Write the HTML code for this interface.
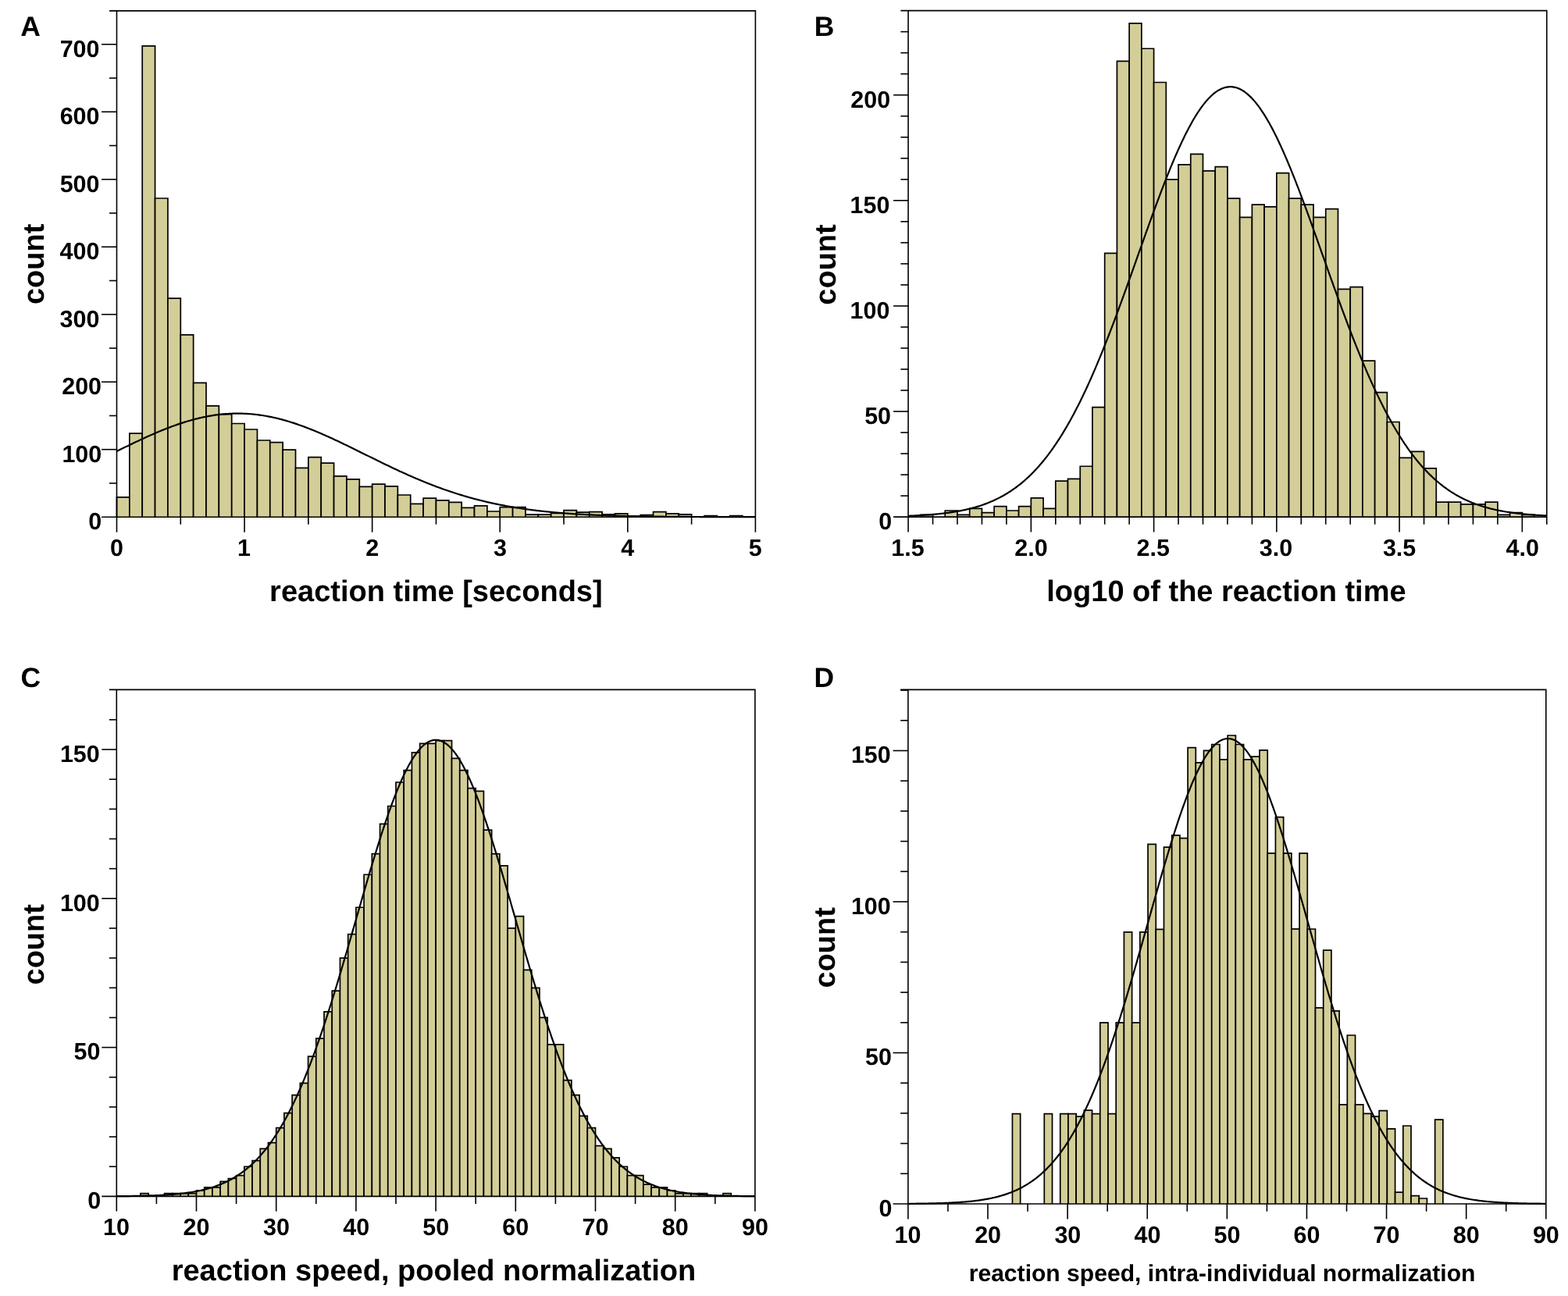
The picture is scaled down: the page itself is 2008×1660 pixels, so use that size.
<!DOCTYPE html>
<html><head><meta charset="utf-8"><title>Reaction time histograms</title>
<style>
html,body{margin:0;padding:0;background:#fff;}
body{width:2008px;height:1660px;overflow:hidden;}
svg{display:block;}
text{font-family:'Liberation Sans',Arial,Helvetica,sans-serif;font-weight:bold;}
</style></head>
<body>
<svg width="2008" height="1660" viewBox="0 0 2008 1660" text-rendering="geometricPrecision">
<rect width="2008" height="1660" fill="#fff"/>
<g fill="#d3ce97" stroke="#000" stroke-width="1.7" stroke-linejoin="miter"><path d="M149.50 662.20V636.80H165.86V662.20"/><path d="M165.86 662.20V555.20H182.22V662.20"/><path d="M182.22 662.20V58.90H198.57V662.20"/><path d="M198.57 662.20V254.00H214.93V662.20"/><path d="M214.93 662.20V382.10H231.29V662.20"/><path d="M231.29 662.20V428.90H247.65V662.20"/><path d="M247.65 662.20V490.40H264.01V662.20"/><path d="M264.01 662.20V519.80H280.36V662.20"/><path d="M280.36 662.20V530.60H296.72V662.20"/><path d="M296.72 662.20V542.50H313.08V662.20"/><path d="M313.08 662.20V550.00H329.44V662.20"/><path d="M329.44 662.20V564.00H345.80V662.20"/><path d="M345.80 662.20V566.60H362.15V662.20"/><path d="M362.15 662.20V576.10H378.51V662.20"/><path d="M378.51 662.20V599.40H394.87V662.20"/><path d="M394.87 662.20V585.70H411.23V662.20"/><path d="M411.23 662.20V593.20H427.59V662.20"/><path d="M427.59 662.20V609.90H443.94V662.20"/><path d="M443.94 662.20V613.90H460.30V662.20"/><path d="M460.30 662.20V623.40H476.66V662.20"/><path d="M476.66 662.20V620.20H493.02V662.20"/><path d="M493.02 662.20V622.80H509.38V662.20"/><path d="M509.38 662.20V634.00H525.73V662.20"/><path d="M525.73 662.20V645.30H542.09V662.20"/><path d="M542.09 662.20V638.20H558.45V662.20"/><path d="M558.45 662.20V640.90H574.81V662.20"/><path d="M574.81 662.20V643.30H591.17V662.20"/><path d="M591.17 662.20V650.30H607.52V662.20"/><path d="M607.52 662.20V647.80H623.88V662.20"/><path d="M623.88 662.20V655.00H640.24V662.20"/><path d="M640.24 662.20V649.60H656.60V662.20"/><path d="M656.60 662.20V649.60H672.96V662.20"/><path d="M672.96 662.20V659.10H689.31V662.20"/><path d="M689.31 662.20V659.10H705.67V662.20"/><path d="M705.67 662.20V657.40H722.03V662.20"/><path d="M722.03 662.20V653.60H738.39V662.20"/><path d="M738.39 662.20V656.10H754.75V662.20"/><path d="M754.75 662.20V655.70H771.10V662.20"/><path d="M771.10 662.20V658.90H787.46V662.20"/><path d="M787.46 662.20V657.90H803.82V662.20"/><path d="M803.82 662.20V661.20H820.18V662.20"/><path d="M820.18 662.20V659.60H836.54V662.20"/><path d="M836.54 662.20V655.70H852.89V662.20"/><path d="M852.89 662.20V657.90H869.25V662.20"/><path d="M869.25 662.20V658.90H885.61V662.20"/><path d="M901.97 662.20V660.50H918.33V662.20"/><path d="M934.68 662.20V660.50H951.04V662.20"/></g>
<polyline fill="none" stroke="#000" stroke-width="2.2" stroke-linejoin="round" points="149.50,578.02 151.00,577.27 152.50,576.53 154.00,575.80 155.50,575.06 157.00,574.32 158.50,573.59 160.01,572.85 161.51,572.12 163.01,571.39 164.51,570.66 166.01,569.93 167.51,569.21 169.01,568.49 170.51,567.77 172.01,567.05 173.51,566.33 175.01,565.62 176.51,564.91 178.01,564.21 179.51,563.51 181.02,562.81 182.52,562.11 184.02,561.42 185.52,560.73 187.02,560.05 188.52,559.37 190.02,558.70 191.52,558.02 193.02,557.36 194.52,556.70 196.02,556.04 197.52,555.39 199.02,554.74 200.52,554.10 202.03,553.47 203.53,552.84 205.03,552.21 206.53,551.60 208.03,550.98 209.53,550.38 211.03,549.78 212.53,549.18 214.03,548.60 215.53,548.02 217.03,547.44 218.53,546.88 220.03,546.32 221.54,545.77 223.04,545.22 224.54,544.68 226.04,544.16 227.54,543.63 229.04,543.12 230.54,542.61 232.04,542.12 233.54,541.63 235.04,541.14 236.54,540.67 238.04,540.21 239.54,539.75 241.04,539.30 242.55,538.87 244.05,538.44 245.55,538.02 247.05,537.61 248.55,537.21 250.05,536.81 251.55,536.43 253.05,536.06 254.55,535.69 256.05,535.34 257.55,535.00 259.05,534.66 260.55,534.34 262.06,534.03 263.56,533.72 265.06,533.43 266.56,533.15 268.06,532.87 269.56,532.61 271.06,532.36 272.56,532.12 274.06,531.89 275.56,531.67 277.06,531.46 278.56,531.27 280.06,531.08 281.56,530.90 283.07,530.74 284.57,530.58 286.07,530.44 287.57,530.31 289.07,530.19 290.57,530.08 292.07,529.98 293.57,529.89 295.07,529.82 296.57,529.75 298.07,529.70 299.57,529.66 301.07,529.63 302.57,529.61 304.08,529.60 305.58,529.60 307.08,529.62 308.58,529.64 310.08,529.68 311.58,529.73 313.08,529.79 314.58,529.86 316.08,529.94 317.58,530.04 319.08,530.14 320.58,530.26 322.08,530.38 323.59,530.52 325.09,530.67 326.59,530.83 328.09,531.00 329.59,531.18 331.09,531.38 332.59,531.58 334.09,531.79 335.59,532.02 337.09,532.26 338.59,532.50 340.09,532.76 341.59,533.03 343.09,533.31 344.60,533.60 346.10,533.89 347.60,534.20 349.10,534.52 350.60,534.85 352.10,535.19 353.60,535.54 355.10,535.90 356.60,536.27 358.10,536.65 359.60,537.03 361.10,537.43 362.60,537.84 364.10,538.25 365.61,538.68 367.11,539.11 368.61,539.56 370.11,540.01 371.61,540.47 373.11,540.94 374.61,541.42 376.11,541.90 377.61,542.40 379.11,542.90 380.61,543.41 382.11,543.93 383.61,544.45 385.12,544.99 386.62,545.53 388.12,546.08 389.62,546.64 391.12,547.20 392.62,547.77 394.12,548.35 395.62,548.93 397.12,549.52 398.62,550.12 400.12,550.72 401.62,551.33 403.12,551.95 404.62,552.57 406.13,553.19 407.63,553.83 409.13,554.47 410.63,555.11 412.13,555.76 413.63,556.41 415.13,557.07 416.63,557.74 418.13,558.41 419.63,559.08 421.13,559.76 422.63,560.44 424.13,561.12 425.64,561.81 427.14,562.51 428.64,563.20 430.14,563.90 431.64,564.61 433.14,565.32 434.64,566.03 436.14,566.74 437.64,567.46 439.14,568.17 440.64,568.90 442.14,569.62 443.64,570.35 445.14,571.07 446.65,571.80 448.15,572.53 449.65,573.27 451.15,574.00 452.65,574.74 454.15,575.48 455.65,576.21 457.15,576.95 458.65,577.70 460.15,578.44 461.65,579.18 463.15,579.92 464.65,580.66 466.15,581.41 467.66,582.15 469.16,582.89 470.66,583.63 472.16,584.38 473.66,585.12 475.16,585.86 476.66,586.60 478.16,587.34 479.66,588.08 481.16,588.82 482.66,589.55 484.16,590.29 485.66,591.02 487.17,591.75 488.67,592.48 490.17,593.21 491.67,593.94 493.17,594.67 494.67,595.39 496.17,596.11 497.67,596.83 499.17,597.55 500.67,598.26 502.17,598.97 503.67,599.68 505.17,600.39 506.67,601.09 508.18,601.79 509.68,602.49 511.18,603.19 512.68,603.88 514.18,604.57 515.68,605.25 517.18,605.94 518.68,606.61 520.18,607.29 521.68,607.96 523.18,608.63 524.68,609.29 526.18,609.95 527.68,610.61 529.19,611.26 530.69,611.91 532.19,612.56 533.69,613.20 535.19,613.83 536.69,614.47 538.19,615.09 539.69,615.72 541.19,616.34 542.69,616.95 544.19,617.56 545.69,618.17 547.19,618.77 548.70,619.37 550.20,619.96 551.70,620.55 553.20,621.13 554.70,621.71 556.20,622.28 557.70,622.85 559.20,623.42 560.70,623.97 562.20,624.53 563.70,625.08 565.20,625.62 566.70,626.16 568.20,626.70 569.71,627.23 571.21,627.75 572.71,628.27 574.21,628.79 575.71,629.30 577.21,629.80 578.71,630.30 580.21,630.80 581.71,631.29 583.21,631.77 584.71,632.25 586.21,632.72 587.71,633.19 589.22,633.66 590.72,634.12 592.22,634.57 593.72,635.02 595.22,635.47 596.72,635.91 598.22,636.34 599.72,636.77 601.22,637.19 602.72,637.61 604.22,638.03 605.72,638.44 607.22,638.84 608.72,639.24 610.23,639.64 611.73,640.03 613.23,640.41 614.73,640.79 616.23,641.17 617.73,641.54 619.23,641.90 620.73,642.26 622.23,642.62 623.73,642.97 625.23,643.32 626.73,643.66 628.23,644.00 629.73,644.33 631.24,644.66 632.74,644.98 634.24,645.30 635.74,645.61 637.24,645.92 638.74,646.23 640.24,646.53 641.74,646.83 643.24,647.12 644.74,647.41 646.24,647.69 647.74,647.97 649.24,648.25 650.75,648.52 652.25,648.79 653.75,649.05 655.25,649.31 656.75,649.56 658.25,649.81 659.75,650.06 661.25,650.30 662.75,650.54 664.25,650.78 665.75,651.01 667.25,651.24 668.75,651.46 670.25,651.68 671.76,651.90 673.26,652.11 674.76,652.32 676.26,652.53 677.76,652.73 679.26,652.93 680.76,653.13 682.26,653.32 683.76,653.51 685.26,653.69 686.76,653.88 688.26,654.06 689.76,654.23 691.26,654.41 692.77,654.58 694.27,654.74 695.77,654.91 697.27,655.07 698.77,655.22 700.27,655.38 701.77,655.53 703.27,655.68 704.77,655.83 706.27,655.97 707.77,656.11 709.27,656.25 710.77,656.39 712.28,656.52 713.78,656.65 715.28,656.78 716.78,656.90 718.28,657.02 719.78,657.15 721.28,657.26 722.78,657.38 724.28,657.49 725.78,657.60 727.28,657.71 728.78,657.82 730.28,657.92 731.78,658.03 733.29,658.13 734.79,658.23 736.29,658.32 737.79,658.42 739.29,658.51 740.79,658.60 742.29,658.69 743.79,658.77 745.29,658.86 746.79,658.94 748.29,659.02 749.79,659.10 751.29,659.18 752.80,659.25 754.30,659.33 755.80,659.40 757.30,659.47 758.80,659.54 760.30,659.61 761.80,659.68 763.30,659.74 764.80,659.80 766.30,659.87 767.80,659.93 769.30,659.99 770.80,660.04 772.30,660.10 773.81,660.16 775.31,660.21 776.81,660.26 778.31,660.31 779.81,660.36 781.31,660.41 782.81,660.46 784.31,660.51 785.81,660.55 787.31,660.60 788.81,660.64 790.31,660.68 791.81,660.72 793.31,660.76 794.82,660.80 796.32,660.84 797.82,660.88 799.32,660.92 800.82,660.95 802.32,660.99 803.82,661.02 805.32,661.05 806.82,661.09 808.32,661.12 809.82,661.15 811.32,661.18 812.82,661.21 814.33,661.24 815.83,661.26 817.33,661.29 818.83,661.32 820.33,661.34 821.83,661.37 823.33,661.39 824.83,661.41 826.33,661.44 827.83,661.46 829.33,661.48 830.83,661.50 832.33,661.52 833.83,661.54 835.34,661.56 836.84,661.58 838.34,661.60 839.84,661.62 841.34,661.64 842.84,661.65 844.34,661.67 845.84,661.68 847.34,661.70 848.84,661.72 850.34,661.73 851.84,661.74 853.34,661.76 854.84,661.77 856.35,661.79 857.85,661.80 859.35,661.81 860.85,661.82 862.35,661.83 863.85,661.85 865.35,661.86 866.85,661.87 868.35,661.88 869.85,661.89 871.35,661.90 872.85,661.91 874.35,661.92 875.86,661.93 877.36,661.94 878.86,661.94 880.36,661.95 881.86,661.96 883.36,661.97 884.86,661.98 886.36,661.98 887.86,661.99 889.36,662.00 890.86,662.00 892.36,662.01 893.86,662.02 895.36,662.02 896.87,662.03 898.37,662.03 899.87,662.04 901.37,662.04 902.87,662.05 904.37,662.05 905.87,662.06 907.37,662.06 908.87,662.07 910.37,662.07 911.87,662.08 913.37,662.08 914.87,662.09 916.38,662.09 917.88,662.09 919.38,662.10 920.88,662.10 922.38,662.10 923.88,662.11 925.38,662.11 926.88,662.11 928.38,662.12 929.88,662.12 931.38,662.12 932.88,662.13 934.38,662.13 935.88,662.13 937.39,662.13 938.89,662.14 940.39,662.14 941.89,662.14 943.39,662.14 944.89,662.14 946.39,662.15 947.89,662.15 949.39,662.15 950.89,662.15 952.39,662.15 953.89,662.15 955.39,662.16 956.89,662.16 958.40,662.16 959.90,662.16 961.40,662.16 962.90,662.16 964.40,662.17 965.90,662.17 967.40,662.17"/>
<g stroke="#000" fill="none" stroke-linecap="butt">
<line x1="149.50" y1="13.90" x2="149.50" y2="681.70" stroke-width="1.6"/>
<path stroke-linejoin="miter" d="M140.00 13.90H967.40V681.70" stroke-width="1.6"/>
<line x1="130.00" y1="662.20" x2="967.40" y2="662.20" stroke-width="1.6"/>
<line x1="140.00" y1="618.96" x2="149.50" y2="618.96" stroke-width="1.6"/>
<line x1="130.00" y1="575.71" x2="149.50" y2="575.71" stroke-width="1.6"/>
<line x1="140.00" y1="532.47" x2="149.50" y2="532.47" stroke-width="1.6"/>
<line x1="130.00" y1="489.22" x2="149.50" y2="489.22" stroke-width="1.6"/>
<line x1="140.00" y1="445.98" x2="149.50" y2="445.98" stroke-width="1.6"/>
<line x1="130.00" y1="402.73" x2="149.50" y2="402.73" stroke-width="1.6"/>
<line x1="140.00" y1="359.49" x2="149.50" y2="359.49" stroke-width="1.6"/>
<line x1="130.00" y1="316.24" x2="149.50" y2="316.24" stroke-width="1.6"/>
<line x1="140.00" y1="273.00" x2="149.50" y2="273.00" stroke-width="1.6"/>
<line x1="130.00" y1="229.75" x2="149.50" y2="229.75" stroke-width="1.6"/>
<line x1="140.00" y1="186.51" x2="149.50" y2="186.51" stroke-width="1.6"/>
<line x1="130.00" y1="143.26" x2="149.50" y2="143.26" stroke-width="1.6"/>
<line x1="140.00" y1="100.02" x2="149.50" y2="100.02" stroke-width="1.6"/>
<line x1="130.00" y1="56.77" x2="149.50" y2="56.77" stroke-width="1.6"/>
<line x1="231.29" y1="662.20" x2="231.29" y2="671.70" stroke-width="1.6"/>
<line x1="313.08" y1="662.20" x2="313.08" y2="681.70" stroke-width="1.6"/>
<line x1="394.87" y1="662.20" x2="394.87" y2="671.70" stroke-width="1.6"/>
<line x1="476.66" y1="662.20" x2="476.66" y2="681.70" stroke-width="1.6"/>
<line x1="558.45" y1="662.20" x2="558.45" y2="671.70" stroke-width="1.6"/>
<line x1="640.24" y1="662.20" x2="640.24" y2="681.70" stroke-width="1.6"/>
<line x1="722.03" y1="662.20" x2="722.03" y2="671.70" stroke-width="1.6"/>
<line x1="803.82" y1="662.20" x2="803.82" y2="681.70" stroke-width="1.6"/>
<line x1="885.61" y1="662.20" x2="885.61" y2="671.70" stroke-width="1.6"/>
</g>
<g fill="#000" font-family="'Liberation Sans', Arial, Helvetica, sans-serif" font-weight="bold">
<text x="76.67" y="72.57" font-size="30.5">700</text>
<text x="76.67" y="159.06" font-size="30.5">600</text>
<text x="76.67" y="245.55" font-size="30.5">500</text>
<text x="76.47" y="332.04" font-size="30.5">400</text>
<text x="76.47" y="418.53" font-size="30.5">300</text>
<text x="79.18" y="505.02" font-size="30.5">200</text>
<text x="79.38" y="591.51" font-size="30.5">100</text>
<text x="113.35" y="678.00" font-size="30.5">0</text>
<text x="141.00" y="712.00" font-size="30.5">0</text>
<text x="304.08" y="712.00" font-size="30.5">1</text>
<text x="468.29" y="712.00" font-size="30.5">2</text>
<text x="631.93" y="712.00" font-size="30.5">3</text>
<text x="795.20" y="712.00" font-size="30.5">4</text>
<text x="958.84" y="712.00" font-size="30.5">5</text>
<text x="345.10" y="769.60" font-size="38">reaction time [seconds]</text>
<text transform="translate(55.83,390.10) rotate(-90)" font-size="38">count</text>
<text x="26.23" y="46.10" font-size="35.5">A</text>
</g>
<g fill="#d3ce97" stroke="#000" stroke-width="1.7" stroke-linejoin="miter"><path d="M1178.82 662.10V659.40H1194.55V662.10"/><path d="M1210.27 662.10V653.99H1226.00V662.10"/><path d="M1226.00 662.10V659.40H1241.72V662.10"/><path d="M1241.72 662.10V651.29H1257.45V662.10"/><path d="M1257.45 662.10V656.70H1273.17V662.10"/><path d="M1273.17 662.10V648.59H1288.90V662.10"/><path d="M1288.90 662.10V653.99H1304.62V662.10"/><path d="M1304.62 662.10V648.59H1320.35V662.10"/><path d="M1320.35 662.10V637.78H1336.07V662.10"/><path d="M1336.07 662.10V651.29H1351.80V662.10"/><path d="M1351.80 662.10V616.17H1367.52V662.10"/><path d="M1367.52 662.10V613.46H1383.25V662.10"/><path d="M1383.25 662.10V597.25H1398.97V662.10"/><path d="M1398.97 662.10V521.60H1414.70V662.10"/><path d="M1414.70 662.10V324.35H1430.42V662.10"/><path d="M1430.42 662.10V78.47H1446.15V662.10"/><path d="M1446.15 662.10V29.83H1461.88V662.10"/><path d="M1461.88 662.10V62.26H1477.60V662.10"/><path d="M1477.60 662.10V105.49H1493.32V662.10"/><path d="M1493.32 662.10V229.78H1509.05V662.10"/><path d="M1509.05 662.10V210.87H1524.78V662.10"/><path d="M1524.78 662.10V197.36H1540.50V662.10"/><path d="M1540.50 662.10V218.97H1556.22V662.10"/><path d="M1556.22 662.10V213.57H1571.95V662.10"/><path d="M1571.95 662.10V254.10H1587.67V662.10"/><path d="M1587.68 662.10V278.42H1603.40V662.10"/><path d="M1603.40 662.10V262.20H1619.12V662.10"/><path d="M1619.12 662.10V264.91H1634.85V662.10"/><path d="M1634.85 662.10V221.67H1650.57V662.10"/><path d="M1650.57 662.10V254.10H1666.30V662.10"/><path d="M1666.30 662.10V262.20H1682.03V662.10"/><path d="M1682.03 662.10V278.42H1697.75V662.10"/><path d="M1697.75 662.10V267.61H1713.47V662.10"/><path d="M1713.47 662.10V370.28H1729.20V662.10"/><path d="M1729.20 662.10V367.58H1744.92V662.10"/><path d="M1744.93 662.10V462.15H1760.65V662.10"/><path d="M1760.65 662.10V502.68H1776.38V662.10"/><path d="M1776.38 662.10V540.51H1792.10V662.10"/><path d="M1792.10 662.10V586.44H1807.83V662.10"/><path d="M1807.83 662.10V578.34H1823.55V662.10"/><path d="M1823.55 662.10V599.95H1839.28V662.10"/><path d="M1839.28 662.10V643.19H1855.00V662.10"/><path d="M1855.00 662.10V643.19H1870.72V662.10"/><path d="M1870.72 662.10V645.89H1886.45V662.10"/><path d="M1886.45 662.10V645.89H1902.18V662.10"/><path d="M1902.18 662.10V643.19H1917.90V662.10"/><path d="M1917.90 662.10V659.40H1933.62V662.10"/><path d="M1933.62 662.10V656.70H1949.35V662.10"/><path d="M1949.35 662.10V659.40H1965.08V662.10"/></g>
<polyline fill="none" stroke="#000" stroke-width="2.2" stroke-linejoin="round" points="1163.10,660.80 1164.60,660.74 1166.10,660.68 1167.60,660.62 1169.10,660.55 1170.60,660.48 1172.10,660.41 1173.60,660.34 1175.10,660.26 1176.60,660.18 1178.10,660.10 1179.60,660.01 1181.10,659.92 1182.60,659.83 1184.11,659.73 1185.61,659.63 1187.11,659.52 1188.61,659.41 1190.11,659.30 1191.61,659.18 1193.11,659.06 1194.61,658.94 1196.11,658.81 1197.61,658.67 1199.11,658.53 1200.61,658.38 1202.11,658.23 1203.61,658.07 1205.11,657.91 1206.61,657.74 1208.11,657.57 1209.61,657.39 1211.11,657.20 1212.61,657.01 1214.11,656.81 1215.61,656.60 1217.11,656.38 1218.61,656.16 1220.11,655.93 1221.61,655.69 1223.11,655.45 1224.62,655.19 1226.12,654.93 1227.62,654.66 1229.12,654.38 1230.62,654.09 1232.12,653.79 1233.62,653.48 1235.12,653.16 1236.62,652.83 1238.12,652.49 1239.62,652.14 1241.12,651.77 1242.62,651.40 1244.12,651.01 1245.62,650.61 1247.12,650.20 1248.62,649.78 1250.12,649.35 1251.62,648.90 1253.12,648.43 1254.62,647.96 1256.12,647.46 1257.62,646.96 1259.12,646.44 1260.62,645.90 1262.12,645.35 1263.62,644.78 1265.12,644.19 1266.63,643.59 1268.13,642.97 1269.63,642.34 1271.13,641.68 1272.63,641.01 1274.13,640.32 1275.63,639.61 1277.13,638.88 1278.63,638.13 1280.13,637.36 1281.63,636.57 1283.13,635.76 1284.63,634.93 1286.13,634.08 1287.63,633.20 1289.13,632.30 1290.63,631.38 1292.13,630.43 1293.63,629.46 1295.13,628.47 1296.63,627.45 1298.13,626.41 1299.63,625.34 1301.13,624.24 1302.63,623.12 1304.13,621.97 1305.63,620.80 1307.14,619.59 1308.64,618.36 1310.14,617.10 1311.64,615.81 1313.14,614.50 1314.64,613.15 1316.14,611.77 1317.64,610.36 1319.14,608.92 1320.64,607.45 1322.14,605.95 1323.64,604.42 1325.14,602.85 1326.64,601.25 1328.14,599.62 1329.64,597.95 1331.14,596.25 1332.64,594.52 1334.14,592.75 1335.64,590.95 1337.14,589.11 1338.64,587.23 1340.14,585.32 1341.64,583.38 1343.14,581.39 1344.64,579.37 1346.14,577.32 1347.65,575.22 1349.15,573.09 1350.65,570.92 1352.15,568.72 1353.65,566.47 1355.15,564.19 1356.65,561.87 1358.15,559.51 1359.65,557.11 1361.15,554.67 1362.65,552.19 1364.15,549.68 1365.65,547.12 1367.15,544.53 1368.65,541.89 1370.15,539.22 1371.65,536.51 1373.15,533.76 1374.65,530.96 1376.15,528.13 1377.65,525.26 1379.15,522.36 1380.65,519.41 1382.15,516.42 1383.65,513.40 1385.15,510.33 1386.65,507.23 1388.16,504.09 1389.66,500.91 1391.16,497.70 1392.66,494.44 1394.16,491.15 1395.66,487.83 1397.16,484.46 1398.66,481.06 1400.16,477.63 1401.66,474.16 1403.16,470.65 1404.66,467.12 1406.16,463.54 1407.66,459.94 1409.16,456.30 1410.66,452.63 1412.16,448.93 1413.66,445.20 1415.16,441.44 1416.66,437.65 1418.16,433.83 1419.66,429.98 1421.16,426.11 1422.66,422.21 1424.16,418.28 1425.66,414.33 1427.16,410.36 1428.66,406.36 1430.17,402.34 1431.67,398.30 1433.17,394.24 1434.67,390.16 1436.17,386.06 1437.67,381.95 1439.17,377.82 1440.67,373.68 1442.17,369.52 1443.67,365.35 1445.17,361.17 1446.67,356.97 1448.17,352.77 1449.67,348.57 1451.17,344.35 1452.67,340.13 1454.17,335.91 1455.67,331.68 1457.17,327.45 1458.67,323.23 1460.17,319.00 1461.67,314.78 1463.17,310.56 1464.67,306.35 1466.17,302.14 1467.67,297.95 1469.17,293.76 1470.68,289.58 1472.18,285.42 1473.68,281.27 1475.18,277.14 1476.68,273.03 1478.18,268.93 1479.68,264.86 1481.18,260.80 1482.68,256.77 1484.18,252.77 1485.68,248.79 1487.18,244.84 1488.68,240.92 1490.18,237.03 1491.68,233.17 1493.18,229.35 1494.68,225.57 1496.18,221.82 1497.68,218.11 1499.18,214.44 1500.68,210.81 1502.18,207.23 1503.68,203.69 1505.18,200.19 1506.68,196.75 1508.18,193.35 1509.68,190.01 1511.19,186.71 1512.69,183.47 1514.19,180.29 1515.69,177.16 1517.19,174.09 1518.69,171.08 1520.19,168.13 1521.69,165.24 1523.19,162.42 1524.69,159.66 1526.19,156.96 1527.69,154.33 1529.19,151.77 1530.69,149.28 1532.19,146.86 1533.69,144.51 1535.19,142.23 1536.69,140.03 1538.19,137.90 1539.69,135.84 1541.19,133.87 1542.69,131.97 1544.19,130.14 1545.69,128.40 1547.19,126.74 1548.69,125.16 1550.19,123.66 1551.70,122.24 1553.20,120.91 1554.70,119.65 1556.20,118.49 1557.70,117.40 1559.20,116.41 1560.70,115.49 1562.20,114.67 1563.70,113.93 1565.20,113.28 1566.70,112.71 1568.20,112.23 1569.70,111.84 1571.20,111.54 1572.70,111.33 1574.20,111.20 1575.70,111.16 1577.20,111.21 1578.70,111.35 1580.20,111.58 1581.70,111.89 1583.20,112.29 1584.70,112.78 1586.20,113.36 1587.70,114.02 1589.20,114.77 1590.70,115.61 1592.20,116.54 1593.71,117.54 1595.21,118.64 1596.71,119.82 1598.21,121.08 1599.71,122.43 1601.21,123.86 1602.71,125.37 1604.21,126.96 1605.71,128.63 1607.21,130.39 1608.71,132.22 1610.21,134.13 1611.71,136.12 1613.21,138.18 1614.71,140.32 1616.21,142.53 1617.71,144.82 1619.21,147.18 1620.71,149.61 1622.21,152.11 1623.71,154.68 1625.21,157.32 1626.71,160.02 1628.21,162.79 1629.71,165.63 1631.21,168.52 1632.71,171.48 1634.22,174.50 1635.72,177.58 1637.22,180.71 1638.72,183.91 1640.22,187.15 1641.72,190.45 1643.22,193.81 1644.72,197.21 1646.22,200.66 1647.72,204.16 1649.22,207.70 1650.72,211.30 1652.22,214.93 1653.72,218.60 1655.22,222.32 1656.72,226.07 1658.22,229.86 1659.72,233.69 1661.22,237.55 1662.72,241.45 1664.22,245.37 1665.72,249.32 1667.22,253.31 1668.72,257.31 1670.22,261.35 1671.72,265.40 1673.22,269.48 1674.73,273.58 1676.23,277.70 1677.73,281.83 1679.23,285.98 1680.73,290.15 1682.23,294.32 1683.73,298.51 1685.23,302.71 1686.73,306.92 1688.23,311.13 1689.73,315.35 1691.23,319.57 1692.73,323.80 1694.23,328.02 1695.73,332.25 1697.23,336.48 1698.73,340.70 1700.23,344.92 1701.73,349.13 1703.23,353.34 1704.73,357.54 1706.23,361.73 1707.73,365.91 1709.23,370.08 1710.73,374.23 1712.23,378.38 1713.73,382.50 1715.24,386.62 1716.74,390.71 1718.24,394.79 1719.74,398.84 1721.24,402.88 1722.74,406.90 1724.24,410.89 1725.74,414.86 1727.24,418.81 1728.74,422.73 1730.24,426.63 1731.74,430.50 1733.24,434.34 1734.74,438.16 1736.24,441.95 1737.74,445.70 1739.24,449.43 1740.74,453.13 1742.24,456.79 1743.74,460.43 1745.24,464.03 1746.74,467.59 1748.24,471.13 1749.74,474.63 1751.24,478.09 1752.74,481.52 1754.24,484.92 1755.74,488.27 1757.25,491.60 1758.75,494.88 1760.25,498.13 1761.75,501.34 1763.25,504.51 1764.75,507.65 1766.25,510.75 1767.75,513.80 1769.25,516.82 1770.75,519.81 1772.25,522.75 1773.75,525.65 1775.25,528.52 1776.75,531.34 1778.25,534.13 1779.75,536.87 1781.25,539.58 1782.75,542.25 1784.25,544.88 1785.75,547.47 1787.25,550.02 1788.75,552.53 1790.25,555.00 1791.75,557.43 1793.25,559.83 1794.75,562.18 1796.25,564.50 1797.76,566.78 1799.26,569.02 1800.76,571.22 1802.26,573.38 1803.76,575.51 1805.26,577.60 1806.76,579.65 1808.26,581.66 1809.76,583.64 1811.26,585.58 1812.76,587.49 1814.26,589.36 1815.76,591.19 1817.26,592.99 1818.76,594.75 1820.26,596.48 1821.76,598.18 1823.26,599.84 1824.76,601.47 1826.26,603.06 1827.76,604.63 1829.26,606.16 1830.76,607.65 1832.26,609.12 1833.76,610.55 1835.26,611.96 1836.76,613.33 1838.27,614.68 1839.77,615.99 1841.27,617.27 1842.77,618.53 1844.27,619.76 1845.77,620.96 1847.27,622.13 1848.77,623.27 1850.27,624.39 1851.77,625.48 1853.27,626.55 1854.77,627.59 1856.27,628.60 1857.77,629.60 1859.27,630.56 1860.77,631.50 1862.27,632.42 1863.77,633.32 1865.27,634.19 1866.77,635.04 1868.27,635.87 1869.77,636.68 1871.27,637.47 1872.77,638.24 1874.27,638.98 1875.77,639.71 1877.27,640.42 1878.78,641.10 1880.28,641.77 1881.78,642.43 1883.28,643.06 1884.78,643.68 1886.28,644.27 1887.78,644.86 1889.28,645.42 1890.78,645.97 1892.28,646.51 1893.78,647.03 1895.28,647.53 1896.78,648.02 1898.28,648.50 1899.78,648.96 1901.28,649.40 1902.78,649.84 1904.28,650.26 1905.78,650.67 1907.28,651.07 1908.78,651.45 1910.28,651.82 1911.78,652.18 1913.28,652.53 1914.78,652.87 1916.28,653.20 1917.78,653.52 1919.28,653.83 1920.79,654.13 1922.29,654.42 1923.79,654.69 1925.29,654.97 1926.79,655.23 1928.29,655.48 1929.79,655.73 1931.29,655.96 1932.79,656.19 1934.29,656.41 1935.79,656.63 1937.29,656.83 1938.79,657.03 1940.29,657.23 1941.79,657.41 1943.29,657.59 1944.79,657.77 1946.29,657.93 1947.79,658.10 1949.29,658.25 1950.79,658.40 1952.29,658.55 1953.79,658.69 1955.29,658.82 1956.79,658.95 1958.29,659.08 1959.79,659.20 1961.30,659.32 1962.80,659.43 1964.30,659.54 1965.80,659.64 1967.30,659.74 1968.80,659.84 1970.30,659.93 1971.80,660.02 1973.30,660.11 1974.80,660.19 1976.30,660.27 1977.80,660.35 1979.30,660.42 1980.80,660.49"/>
<g stroke="#000" fill="none" stroke-linecap="butt">
<line x1="1163.10" y1="13.60" x2="1163.10" y2="681.50" stroke-width="1.6"/>
<path stroke-linejoin="miter" d="M1153.40 13.60H1980.80V671.70" stroke-width="1.6"/>
<line x1="1144.10" y1="662.10" x2="1980.80" y2="662.10" stroke-width="1.6"/>
<line x1="1153.40" y1="635.08" x2="1163.10" y2="635.08" stroke-width="1.6"/>
<line x1="1153.40" y1="608.06" x2="1163.10" y2="608.06" stroke-width="1.6"/>
<line x1="1153.40" y1="581.04" x2="1163.10" y2="581.04" stroke-width="1.6"/>
<line x1="1153.40" y1="554.02" x2="1163.10" y2="554.02" stroke-width="1.6"/>
<line x1="1144.10" y1="527.00" x2="1163.10" y2="527.00" stroke-width="1.6"/>
<line x1="1153.40" y1="499.98" x2="1163.10" y2="499.98" stroke-width="1.6"/>
<line x1="1153.40" y1="472.96" x2="1163.10" y2="472.96" stroke-width="1.6"/>
<line x1="1153.40" y1="445.94" x2="1163.10" y2="445.94" stroke-width="1.6"/>
<line x1="1153.40" y1="418.92" x2="1163.10" y2="418.92" stroke-width="1.6"/>
<line x1="1144.10" y1="391.90" x2="1163.10" y2="391.90" stroke-width="1.6"/>
<line x1="1153.40" y1="364.88" x2="1163.10" y2="364.88" stroke-width="1.6"/>
<line x1="1153.40" y1="337.86" x2="1163.10" y2="337.86" stroke-width="1.6"/>
<line x1="1153.40" y1="310.84" x2="1163.10" y2="310.84" stroke-width="1.6"/>
<line x1="1153.40" y1="283.82" x2="1163.10" y2="283.82" stroke-width="1.6"/>
<line x1="1144.10" y1="256.80" x2="1163.10" y2="256.80" stroke-width="1.6"/>
<line x1="1153.40" y1="229.78" x2="1163.10" y2="229.78" stroke-width="1.6"/>
<line x1="1153.40" y1="202.76" x2="1163.10" y2="202.76" stroke-width="1.6"/>
<line x1="1153.40" y1="175.74" x2="1163.10" y2="175.74" stroke-width="1.6"/>
<line x1="1153.40" y1="148.72" x2="1163.10" y2="148.72" stroke-width="1.6"/>
<line x1="1144.10" y1="121.70" x2="1163.10" y2="121.70" stroke-width="1.6"/>
<line x1="1153.40" y1="94.68" x2="1163.10" y2="94.68" stroke-width="1.6"/>
<line x1="1153.40" y1="67.66" x2="1163.10" y2="67.66" stroke-width="1.6"/>
<line x1="1153.40" y1="40.64" x2="1163.10" y2="40.64" stroke-width="1.6"/>
<line x1="1194.55" y1="662.10" x2="1194.55" y2="671.70" stroke-width="1.6"/>
<line x1="1226.00" y1="662.10" x2="1226.00" y2="671.70" stroke-width="1.6"/>
<line x1="1257.45" y1="662.10" x2="1257.45" y2="671.70" stroke-width="1.6"/>
<line x1="1288.90" y1="662.10" x2="1288.90" y2="671.70" stroke-width="1.6"/>
<line x1="1320.35" y1="662.10" x2="1320.35" y2="681.50" stroke-width="1.6"/>
<line x1="1351.80" y1="662.10" x2="1351.80" y2="671.70" stroke-width="1.6"/>
<line x1="1383.25" y1="662.10" x2="1383.25" y2="671.70" stroke-width="1.6"/>
<line x1="1414.70" y1="662.10" x2="1414.70" y2="671.70" stroke-width="1.6"/>
<line x1="1446.15" y1="662.10" x2="1446.15" y2="671.70" stroke-width="1.6"/>
<line x1="1477.60" y1="662.10" x2="1477.60" y2="681.50" stroke-width="1.6"/>
<line x1="1509.05" y1="662.10" x2="1509.05" y2="671.70" stroke-width="1.6"/>
<line x1="1540.50" y1="662.10" x2="1540.50" y2="671.70" stroke-width="1.6"/>
<line x1="1571.95" y1="662.10" x2="1571.95" y2="671.70" stroke-width="1.6"/>
<line x1="1603.40" y1="662.10" x2="1603.40" y2="671.70" stroke-width="1.6"/>
<line x1="1634.85" y1="662.10" x2="1634.85" y2="681.50" stroke-width="1.6"/>
<line x1="1666.30" y1="662.10" x2="1666.30" y2="671.70" stroke-width="1.6"/>
<line x1="1697.75" y1="662.10" x2="1697.75" y2="671.70" stroke-width="1.6"/>
<line x1="1729.20" y1="662.10" x2="1729.20" y2="671.70" stroke-width="1.6"/>
<line x1="1760.65" y1="662.10" x2="1760.65" y2="671.70" stroke-width="1.6"/>
<line x1="1792.10" y1="662.10" x2="1792.10" y2="681.50" stroke-width="1.6"/>
<line x1="1823.55" y1="662.10" x2="1823.55" y2="671.70" stroke-width="1.6"/>
<line x1="1855.00" y1="662.10" x2="1855.00" y2="671.70" stroke-width="1.6"/>
<line x1="1886.45" y1="662.10" x2="1886.45" y2="671.70" stroke-width="1.6"/>
<line x1="1917.90" y1="662.10" x2="1917.90" y2="671.70" stroke-width="1.6"/>
<line x1="1949.35" y1="662.10" x2="1949.35" y2="681.50" stroke-width="1.6"/>
</g>
<g fill="#000" font-family="'Liberation Sans', Arial, Helvetica, sans-serif" font-weight="bold">
<text x="1089.28" y="137.50" font-size="30.5">200</text>
<text x="1088.58" y="272.60" font-size="30.5">150</text>
<text x="1088.58" y="407.70" font-size="30.5">100</text>
<text x="1107.15" y="542.80" font-size="30.5">50</text>
<text x="1125.35" y="677.90" font-size="30.5">0</text>
<text x="1141.35" y="711.90" font-size="30.5">1.5</text>
<text x="1299.22" y="711.90" font-size="30.5">2.0</text>
<text x="1455.49" y="711.90" font-size="30.5">2.5</text>
<text x="1612.85" y="711.90" font-size="30.5">3.0</text>
<text x="1770.91" y="711.90" font-size="30.5">3.5</text>
<text x="1928.47" y="711.90" font-size="30.5">4.0</text>
<text x="1340.28" y="769.60" font-size="38">log10 of the reaction time</text>
<text transform="translate(1069.92,390.70) rotate(-90)" font-size="38">count</text>
<text x="1042.72" y="46.10" font-size="35.5">B</text>
</g>
<g fill="#d3ce97" stroke="#000" stroke-width="1.7" stroke-linejoin="miter"><path d="M179.96 1532.40V1528.58H190.18V1532.40"/><path d="M210.62 1532.40V1528.58H220.84V1532.40"/><path d="M220.84 1532.40V1528.58H231.06V1532.40"/><path d="M231.06 1532.40V1528.58H241.28V1532.40"/><path d="M241.28 1532.40V1528.58H251.50V1532.40"/><path d="M251.50 1532.40V1524.77H261.72V1532.40"/><path d="M261.72 1532.40V1520.95H271.94V1532.40"/><path d="M271.94 1532.40V1520.95H282.16V1532.40"/><path d="M282.16 1532.40V1513.32H292.38V1532.40"/><path d="M292.38 1532.40V1509.50H302.60V1532.40"/><path d="M302.60 1532.40V1505.69H312.82V1532.40"/><path d="M312.82 1532.40V1494.24H323.04V1532.40"/><path d="M323.04 1532.40V1486.61H333.26V1532.40"/><path d="M333.26 1532.40V1471.34H343.48V1532.40"/><path d="M343.48 1532.40V1463.71H353.70V1532.40"/><path d="M353.70 1532.40V1444.63H363.92V1532.40"/><path d="M363.92 1532.40V1425.55H374.14V1532.40"/><path d="M374.14 1532.40V1402.66H384.36V1532.40"/><path d="M384.36 1532.40V1387.39H394.58V1532.40"/><path d="M394.58 1532.40V1353.05H404.80V1532.40"/><path d="M404.80 1532.40V1330.15H415.02V1532.40"/><path d="M415.02 1532.40V1295.81H425.24V1532.40"/><path d="M425.24 1532.40V1269.10H435.46V1532.40"/><path d="M435.46 1532.40V1227.12H445.68V1532.40"/><path d="M445.68 1532.40V1196.59H455.90V1532.40"/><path d="M455.90 1532.40V1162.25H466.12V1532.40"/><path d="M466.12 1532.40V1120.27H476.34V1532.40"/><path d="M476.34 1532.40V1093.56H486.56V1532.40"/><path d="M486.56 1532.40V1055.40H496.78V1532.40"/><path d="M496.78 1532.40V1032.50H507.00V1532.40"/><path d="M507.00 1532.40V1001.98H517.22V1532.40"/><path d="M517.22 1532.40V986.71H527.44V1532.40"/><path d="M527.44 1532.40V963.82H537.66V1532.40"/><path d="M537.66 1532.40V952.37H547.88V1532.40"/><path d="M547.88 1532.40V952.37H558.10V1532.40"/><path d="M558.10 1532.40V948.55H568.32V1532.40"/><path d="M568.32 1532.40V948.55H578.54V1532.40"/><path d="M578.54 1532.40V971.45H588.76V1532.40"/><path d="M588.76 1532.40V986.71H598.98V1532.40"/><path d="M598.98 1532.40V1009.61H609.20V1532.40"/><path d="M609.20 1532.40V1013.42H619.42V1532.40"/><path d="M619.42 1532.40V1063.03H629.64V1532.40"/><path d="M629.64 1532.40V1093.56H639.86V1532.40"/><path d="M639.86 1532.40V1108.82H650.08V1532.40"/><path d="M650.08 1532.40V1188.96H660.30V1532.40"/><path d="M660.30 1532.40V1173.70H670.52V1532.40"/><path d="M670.52 1532.40V1242.38H680.74V1532.40"/><path d="M680.74 1532.40V1265.28H690.96V1532.40"/><path d="M690.96 1532.40V1303.44H701.18V1532.40"/><path d="M701.18 1532.40V1337.78H711.40V1532.40"/><path d="M711.40 1532.40V1337.78H721.62V1532.40"/><path d="M721.62 1532.40V1383.58H731.84V1532.40"/><path d="M731.84 1532.40V1402.66H742.06V1532.40"/><path d="M742.06 1532.40V1429.37H752.28V1532.40"/><path d="M752.28 1532.40V1444.63H762.50V1532.40"/><path d="M762.50 1532.40V1467.53H772.72V1532.40"/><path d="M772.72 1532.40V1471.34H782.94V1532.40"/><path d="M782.94 1532.40V1482.79H793.16V1532.40"/><path d="M793.16 1532.40V1494.24H803.38V1532.40"/><path d="M803.38 1532.40V1505.69H813.60V1532.40"/><path d="M813.60 1532.40V1505.69H823.82V1532.40"/><path d="M823.82 1532.40V1517.14H834.04V1532.40"/><path d="M834.04 1532.40V1520.95H844.26V1532.40"/><path d="M844.26 1532.40V1520.95H854.48V1532.40"/><path d="M854.48 1532.40V1524.77H864.70V1532.40"/><path d="M864.70 1532.40V1528.58H874.92V1532.40"/><path d="M874.92 1532.40V1528.58H885.14V1532.40"/><path d="M885.14 1532.40V1528.58H895.36V1532.40"/><path d="M895.36 1532.40V1528.58H905.58V1532.40"/><path d="M926.02 1532.40V1528.58H936.24V1532.40"/></g>
<polyline fill="none" stroke="#000" stroke-width="2.2" stroke-linejoin="round" points="149.30,1532.20 150.80,1532.19 152.30,1532.18 153.80,1532.17 155.30,1532.15 156.80,1532.14 158.30,1532.12 159.80,1532.11 161.30,1532.09 162.80,1532.07 164.30,1532.05 165.80,1532.03 167.30,1532.01 168.80,1531.99 170.30,1531.96 171.80,1531.94 173.30,1531.91 174.80,1531.88 176.30,1531.86 177.80,1531.82 179.30,1531.79 180.80,1531.76 182.30,1531.72 183.80,1531.69 185.30,1531.65 186.80,1531.60 188.30,1531.56 189.80,1531.52 191.31,1531.47 192.81,1531.42 194.31,1531.36 195.81,1531.31 197.31,1531.25 198.81,1531.19 200.31,1531.13 201.81,1531.06 203.31,1530.99 204.81,1530.91 206.31,1530.84 207.81,1530.76 209.31,1530.67 210.81,1530.58 212.31,1530.49 213.81,1530.39 215.31,1530.29 216.81,1530.19 218.31,1530.07 219.81,1529.96 221.31,1529.84 222.81,1529.71 224.31,1529.58 225.81,1529.44 227.31,1529.30 228.81,1529.14 230.31,1528.99 231.81,1528.82 233.31,1528.65 234.81,1528.47 236.31,1528.29 237.81,1528.09 239.31,1527.89 240.81,1527.68 242.31,1527.46 243.81,1527.23 245.31,1526.99 246.81,1526.75 248.31,1526.49 249.81,1526.22 251.31,1525.94 252.81,1525.65 254.31,1525.35 255.81,1525.04 257.31,1524.71 258.81,1524.37 260.31,1524.02 261.81,1523.65 263.31,1523.27 264.81,1522.88 266.31,1522.47 267.81,1522.05 269.31,1521.61 270.81,1521.15 272.32,1520.68 273.82,1520.19 275.32,1519.68 276.82,1519.16 278.32,1518.61 279.82,1518.05 281.32,1517.47 282.82,1516.86 284.32,1516.24 285.82,1515.59 287.32,1514.92 288.82,1514.23 290.32,1513.52 291.82,1512.78 293.32,1512.02 294.82,1511.23 296.32,1510.41 297.82,1509.57 299.32,1508.71 300.82,1507.81 302.32,1506.89 303.82,1505.94 305.32,1504.96 306.82,1503.95 308.32,1502.90 309.82,1501.83 311.32,1500.72 312.82,1499.58 314.32,1498.41 315.82,1497.20 317.32,1495.96 318.82,1494.68 320.32,1493.37 321.82,1492.02 323.32,1490.63 324.82,1489.20 326.32,1487.73 327.82,1486.22 329.32,1484.68 330.82,1483.09 332.32,1481.46 333.82,1479.78 335.32,1478.07 336.82,1476.31 338.32,1474.50 339.82,1472.65 341.32,1470.75 342.82,1468.81 344.32,1466.82 345.82,1464.78 347.32,1462.70 348.82,1460.56 350.32,1458.38 351.82,1456.15 353.32,1453.86 354.83,1451.52 356.33,1449.14 357.83,1446.70 359.33,1444.21 360.83,1441.66 362.33,1439.07 363.83,1436.41 365.33,1433.71 366.83,1430.95 368.33,1428.13 369.83,1425.26 371.33,1422.34 372.83,1419.36 374.33,1416.32 375.83,1413.23 377.33,1410.08 378.83,1406.88 380.33,1403.62 381.83,1400.30 383.33,1396.93 384.83,1393.50 386.33,1390.02 387.83,1386.48 389.33,1382.88 390.83,1379.23 392.33,1375.52 393.83,1371.76 395.33,1367.94 396.83,1364.07 398.33,1360.14 399.83,1356.16 401.33,1352.13 402.83,1348.05 404.33,1343.91 405.83,1339.72 407.33,1335.48 408.83,1331.19 410.33,1326.85 411.83,1322.47 413.33,1318.03 414.83,1313.55 416.33,1309.03 417.83,1304.46 419.33,1299.84 420.83,1295.19 422.33,1290.49 423.83,1285.75 425.33,1280.98 426.83,1276.16 428.33,1271.31 429.83,1266.43 431.33,1261.52 432.83,1256.57 434.33,1251.59 435.84,1246.59 437.34,1241.55 438.84,1236.50 440.34,1231.42 441.84,1226.31 443.34,1221.19 444.84,1216.06 446.34,1210.90 447.84,1205.73 449.34,1200.56 450.84,1195.37 452.34,1190.17 453.84,1184.97 455.34,1179.77 456.84,1174.56 458.34,1169.36 459.84,1164.16 461.34,1158.97 462.84,1153.78 464.34,1148.61 465.84,1143.44 467.34,1138.30 468.84,1133.17 470.34,1128.06 471.84,1122.98 473.34,1117.92 474.84,1112.89 476.34,1107.89 477.84,1102.92 479.34,1097.98 480.84,1093.09 482.34,1088.24 483.84,1083.42 485.34,1078.66 486.84,1073.94 488.34,1069.28 489.84,1064.66 491.34,1060.10 492.84,1055.61 494.34,1051.17 495.84,1046.79 497.34,1042.48 498.84,1038.24 500.34,1034.07 501.84,1029.98 503.34,1025.95 504.84,1022.01 506.34,1018.15 507.84,1014.37 509.34,1010.67 510.84,1007.06 512.34,1003.54 513.84,1000.11 515.34,996.77 516.84,993.53 518.35,990.39 519.85,987.34 521.35,984.40 522.85,981.56 524.35,978.82 525.85,976.19 527.35,973.67 528.85,971.25 530.35,968.95 531.85,966.76 533.35,964.69 534.85,962.73 536.35,960.88 537.85,959.16 539.35,957.55 540.85,956.06 542.35,954.69 543.85,953.45 545.35,952.32 546.85,951.32 548.35,950.44 549.85,949.69 551.35,949.06 552.85,948.56 554.35,948.18 555.85,947.93 557.35,947.80 558.85,947.80 560.35,947.93 561.85,948.18 563.35,948.56 564.85,949.06 566.35,949.69 567.85,950.44 569.35,951.32 570.85,952.32 572.35,953.45 573.85,954.69 575.35,956.06 576.85,957.55 578.35,959.16 579.85,960.88 581.35,962.73 582.85,964.69 584.35,966.76 585.85,968.95 587.35,971.25 588.85,973.67 590.35,976.19 591.85,978.82 593.35,981.56 594.85,984.40 596.35,987.34 597.85,990.39 599.36,993.53 600.86,996.77 602.36,1000.11 603.86,1003.54 605.36,1007.06 606.86,1010.67 608.36,1014.37 609.86,1018.15 611.36,1022.01 612.86,1025.95 614.36,1029.98 615.86,1034.07 617.36,1038.24 618.86,1042.48 620.36,1046.79 621.86,1051.17 623.36,1055.61 624.86,1060.10 626.36,1064.66 627.86,1069.28 629.36,1073.94 630.86,1078.66 632.36,1083.42 633.86,1088.24 635.36,1093.09 636.86,1097.98 638.36,1102.92 639.86,1107.89 641.36,1112.89 642.86,1117.92 644.36,1122.98 645.86,1128.06 647.36,1133.17 648.86,1138.30 650.36,1143.44 651.86,1148.61 653.36,1153.78 654.86,1158.97 656.36,1164.16 657.86,1169.36 659.36,1174.56 660.86,1179.77 662.36,1184.97 663.86,1190.17 665.36,1195.37 666.86,1200.56 668.36,1205.73 669.86,1210.90 671.36,1216.06 672.86,1221.19 674.36,1226.31 675.86,1231.42 677.36,1236.50 678.86,1241.55 680.36,1246.59 681.87,1251.59 683.37,1256.57 684.87,1261.52 686.37,1266.43 687.87,1271.31 689.37,1276.16 690.87,1280.98 692.37,1285.75 693.87,1290.49 695.37,1295.19 696.87,1299.84 698.37,1304.46 699.87,1309.03 701.37,1313.55 702.87,1318.03 704.37,1322.47 705.87,1326.85 707.37,1331.19 708.87,1335.48 710.37,1339.72 711.87,1343.91 713.37,1348.05 714.87,1352.13 716.37,1356.16 717.87,1360.14 719.37,1364.07 720.87,1367.94 722.37,1371.76 723.87,1375.52 725.37,1379.23 726.87,1382.88 728.37,1386.48 729.87,1390.02 731.37,1393.50 732.87,1396.93 734.37,1400.30 735.87,1403.62 737.37,1406.88 738.87,1410.08 740.37,1413.23 741.87,1416.32 743.37,1419.36 744.87,1422.34 746.37,1425.26 747.87,1428.13 749.37,1430.95 750.87,1433.71 752.37,1436.41 753.87,1439.07 755.37,1441.66 756.87,1444.21 758.37,1446.70 759.87,1449.14 761.37,1451.52 762.88,1453.86 764.38,1456.15 765.88,1458.38 767.38,1460.56 768.88,1462.70 770.38,1464.78 771.88,1466.82 773.38,1468.81 774.88,1470.75 776.38,1472.65 777.88,1474.50 779.38,1476.31 780.88,1478.07 782.38,1479.78 783.88,1481.46 785.38,1483.09 786.88,1484.68 788.38,1486.22 789.88,1487.73 791.38,1489.20 792.88,1490.63 794.38,1492.02 795.88,1493.37 797.38,1494.68 798.88,1495.96 800.38,1497.20 801.88,1498.41 803.38,1499.58 804.88,1500.72 806.38,1501.83 807.88,1502.90 809.38,1503.95 810.88,1504.96 812.38,1505.94 813.88,1506.89 815.38,1507.81 816.88,1508.71 818.38,1509.57 819.88,1510.41 821.38,1511.23 822.88,1512.02 824.38,1512.78 825.88,1513.52 827.38,1514.23 828.88,1514.92 830.38,1515.59 831.88,1516.24 833.38,1516.86 834.88,1517.47 836.38,1518.05 837.88,1518.61 839.38,1519.16 840.88,1519.68 842.38,1520.19 843.88,1520.68 845.39,1521.15 846.89,1521.61 848.39,1522.05 849.89,1522.47 851.39,1522.88 852.89,1523.27 854.39,1523.65 855.89,1524.02 857.39,1524.37 858.89,1524.71 860.39,1525.04 861.89,1525.35 863.39,1525.65 864.89,1525.94 866.39,1526.22 867.89,1526.49 869.39,1526.75 870.89,1526.99 872.39,1527.23 873.89,1527.46 875.39,1527.68 876.89,1527.89 878.39,1528.09 879.89,1528.29 881.39,1528.47 882.89,1528.65 884.39,1528.82 885.89,1528.99 887.39,1529.14 888.89,1529.30 890.39,1529.44 891.89,1529.58 893.39,1529.71 894.89,1529.84 896.39,1529.96 897.89,1530.07 899.39,1530.19 900.89,1530.29 902.39,1530.39 903.89,1530.49 905.39,1530.58 906.89,1530.67 908.39,1530.76 909.89,1530.84 911.39,1530.91 912.89,1530.99 914.39,1531.06 915.89,1531.13 917.39,1531.19 918.89,1531.25 920.39,1531.31 921.89,1531.36 923.39,1531.42 924.89,1531.47 926.40,1531.52 927.90,1531.56 929.40,1531.60 930.90,1531.65 932.40,1531.69 933.90,1531.72 935.40,1531.76 936.90,1531.79 938.40,1531.82 939.90,1531.86 941.40,1531.88 942.90,1531.91 944.40,1531.94 945.90,1531.96 947.40,1531.99 948.90,1532.01 950.40,1532.03 951.90,1532.05 953.40,1532.07 954.90,1532.09 956.40,1532.11 957.90,1532.12 959.40,1532.14 960.90,1532.15 962.40,1532.17 963.90,1532.18 965.40,1532.19 966.90,1532.20"/>
<g stroke="#000" fill="none" stroke-linecap="butt">
<line x1="149.30" y1="883.40" x2="149.30" y2="1551.60" stroke-width="1.6"/>
<path stroke-linejoin="miter" d="M139.80 883.40H966.90V1551.60" stroke-width="1.6"/>
<line x1="130.30" y1="1532.40" x2="966.90" y2="1532.40" stroke-width="1.6"/>
<line x1="139.80" y1="1494.24" x2="149.30" y2="1494.24" stroke-width="1.6"/>
<line x1="139.80" y1="1456.08" x2="149.30" y2="1456.08" stroke-width="1.6"/>
<line x1="139.80" y1="1417.92" x2="149.30" y2="1417.92" stroke-width="1.6"/>
<line x1="139.80" y1="1379.76" x2="149.30" y2="1379.76" stroke-width="1.6"/>
<line x1="130.30" y1="1341.60" x2="149.30" y2="1341.60" stroke-width="1.6"/>
<line x1="139.80" y1="1303.44" x2="149.30" y2="1303.44" stroke-width="1.6"/>
<line x1="139.80" y1="1265.28" x2="149.30" y2="1265.28" stroke-width="1.6"/>
<line x1="139.80" y1="1227.12" x2="149.30" y2="1227.12" stroke-width="1.6"/>
<line x1="139.80" y1="1188.96" x2="149.30" y2="1188.96" stroke-width="1.6"/>
<line x1="130.30" y1="1150.80" x2="149.30" y2="1150.80" stroke-width="1.6"/>
<line x1="139.80" y1="1112.64" x2="149.30" y2="1112.64" stroke-width="1.6"/>
<line x1="139.80" y1="1074.48" x2="149.30" y2="1074.48" stroke-width="1.6"/>
<line x1="139.80" y1="1036.32" x2="149.30" y2="1036.32" stroke-width="1.6"/>
<line x1="139.80" y1="998.16" x2="149.30" y2="998.16" stroke-width="1.6"/>
<line x1="130.30" y1="960.00" x2="149.30" y2="960.00" stroke-width="1.6"/>
<line x1="139.80" y1="921.84" x2="149.30" y2="921.84" stroke-width="1.6"/>
<line x1="200.40" y1="1532.40" x2="200.40" y2="1542.00" stroke-width="1.6"/>
<line x1="251.50" y1="1532.40" x2="251.50" y2="1551.60" stroke-width="1.6"/>
<line x1="302.60" y1="1532.40" x2="302.60" y2="1542.00" stroke-width="1.6"/>
<line x1="353.70" y1="1532.40" x2="353.70" y2="1551.60" stroke-width="1.6"/>
<line x1="404.80" y1="1532.40" x2="404.80" y2="1542.00" stroke-width="1.6"/>
<line x1="455.90" y1="1532.40" x2="455.90" y2="1551.60" stroke-width="1.6"/>
<line x1="507.00" y1="1532.40" x2="507.00" y2="1542.00" stroke-width="1.6"/>
<line x1="558.10" y1="1532.40" x2="558.10" y2="1551.60" stroke-width="1.6"/>
<line x1="609.20" y1="1532.40" x2="609.20" y2="1542.00" stroke-width="1.6"/>
<line x1="660.30" y1="1532.40" x2="660.30" y2="1551.60" stroke-width="1.6"/>
<line x1="711.40" y1="1532.40" x2="711.40" y2="1542.00" stroke-width="1.6"/>
<line x1="762.50" y1="1532.40" x2="762.50" y2="1551.60" stroke-width="1.6"/>
<line x1="813.60" y1="1532.40" x2="813.60" y2="1542.00" stroke-width="1.6"/>
<line x1="864.70" y1="1532.40" x2="864.70" y2="1551.60" stroke-width="1.6"/>
<line x1="915.80" y1="1532.40" x2="915.80" y2="1542.00" stroke-width="1.6"/>
</g>
<g fill="#000" font-family="'Liberation Sans', Arial, Helvetica, sans-serif" font-weight="bold">
<text x="76.88" y="975.80" font-size="30.5">150</text>
<text x="76.88" y="1166.60" font-size="30.5">100</text>
<text x="94.45" y="1357.40" font-size="30.5">50</text>
<text x="112.15" y="1548.20" font-size="30.5">0</text>
<text x="131.99" y="1582.20" font-size="30.5">10</text>
<text x="234.62" y="1582.20" font-size="30.5">20</text>
<text x="336.95" y="1582.20" font-size="30.5">30</text>
<text x="439.27" y="1582.20" font-size="30.5">40</text>
<text x="541.22" y="1582.20" font-size="30.5">50</text>
<text x="643.36" y="1582.20" font-size="30.5">60</text>
<text x="745.50" y="1582.20" font-size="30.5">70</text>
<text x="847.82" y="1582.20" font-size="30.5">80</text>
<text x="950.02" y="1582.20" font-size="30.5">90</text>
<text x="219.70" y="1639.60" font-size="38">reaction speed, pooled normalization</text>
<text transform="translate(55.83,1261.50) rotate(-90)" font-size="38">count</text>
<text x="26.50" y="880.00" font-size="35.5">C</text>
</g>
<g fill="#d3ce97" stroke="#000" stroke-width="1.7" stroke-linejoin="miter"><path d="M1296.46 1542.00V1426.60H1306.67V1542.00"/><path d="M1337.31 1542.00V1426.60H1347.52V1542.00"/><path d="M1357.73 1542.00V1426.60H1367.94V1542.00"/><path d="M1367.94 1542.00V1426.60H1378.15V1542.00"/><path d="M1378.15 1542.00V1430.20H1388.36V1542.00"/><path d="M1388.36 1542.00V1422.20H1398.58V1542.00"/><path d="M1398.58 1542.00V1426.60H1408.79V1542.00"/><path d="M1408.79 1542.00V1309.90H1419.00V1542.00"/><path d="M1419.00 1542.00V1426.60H1429.21V1542.00"/><path d="M1429.21 1542.00V1309.90H1439.42V1542.00"/><path d="M1439.42 1542.00V1193.80H1449.63V1542.00"/><path d="M1449.63 1542.00V1309.90H1459.84V1542.00"/><path d="M1459.84 1542.00V1193.80H1470.05V1542.00"/><path d="M1470.05 1542.00V1081.40H1480.27V1542.00"/><path d="M1480.27 1542.00V1190.30H1490.48V1542.00"/><path d="M1490.48 1542.00V1085.20H1500.69V1542.00"/><path d="M1500.69 1542.00V1069.80H1510.90V1542.00"/><path d="M1510.90 1542.00V1073.70H1521.11V1542.00"/><path d="M1521.11 1542.00V957.60H1531.32V1542.00"/><path d="M1531.32 1542.00V976.90H1541.53V1542.00"/><path d="M1541.53 1542.00V961.40H1551.74V1542.00"/><path d="M1551.74 1542.00V953.50H1561.96V1542.00"/><path d="M1561.96 1542.00V972.80H1572.17V1542.00"/><path d="M1572.17 1542.00V942.00H1582.38V1542.00"/><path d="M1582.38 1542.00V953.50H1592.59V1542.00"/><path d="M1592.59 1542.00V972.80H1602.80V1542.00"/><path d="M1602.80 1542.00V969.10H1613.01V1542.00"/><path d="M1613.01 1542.00V960.90H1623.22V1542.00"/><path d="M1623.22 1542.00V1092.90H1633.43V1542.00"/><path d="M1633.43 1542.00V1046.70H1643.65V1542.00"/><path d="M1643.65 1542.00V1092.90H1653.86V1542.00"/><path d="M1653.86 1542.00V1189.90H1664.07V1542.00"/><path d="M1664.07 1542.00V1092.90H1674.28V1542.00"/><path d="M1674.28 1542.00V1190.00H1684.49V1542.00"/><path d="M1684.49 1542.00V1290.80H1694.70V1542.00"/><path d="M1694.70 1542.00V1217.20H1704.91V1542.00"/><path d="M1704.91 1542.00V1294.80H1715.12V1542.00"/><path d="M1715.12 1542.00V1414.80H1725.34V1542.00"/><path d="M1725.34 1542.00V1326.00H1735.55V1542.00"/><path d="M1735.55 1542.00V1414.80H1745.76V1542.00"/><path d="M1745.76 1542.00V1426.40H1755.97V1542.00"/><path d="M1755.97 1542.00V1430.20H1766.18V1542.00"/><path d="M1766.18 1542.00V1422.60H1776.39V1542.00"/><path d="M1776.39 1542.00V1445.80H1786.60V1542.00"/><path d="M1786.60 1542.00V1527.20H1796.81V1542.00"/><path d="M1796.81 1542.00V1442.00H1807.03V1542.00"/><path d="M1807.03 1542.00V1531.60H1817.24V1542.00"/><path d="M1817.24 1542.00V1535.00H1827.45V1542.00"/><path d="M1837.66 1542.00V1434.20H1847.87V1542.00"/></g>
<polyline fill="none" stroke="#000" stroke-width="2.2" stroke-linejoin="round" points="1162.90,1541.81 1164.40,1541.80 1165.90,1541.79 1167.40,1541.77 1168.91,1541.76 1170.41,1541.74 1171.91,1541.73 1173.41,1541.71 1174.91,1541.70 1176.41,1541.68 1177.92,1541.66 1179.42,1541.64 1180.92,1541.62 1182.42,1541.60 1183.92,1541.57 1185.42,1541.55 1186.93,1541.52 1188.43,1541.50 1189.93,1541.47 1191.43,1541.44 1192.93,1541.41 1194.43,1541.37 1195.94,1541.34 1197.44,1541.30 1198.94,1541.26 1200.44,1541.22 1201.94,1541.18 1203.44,1541.13 1204.95,1541.09 1206.45,1541.04 1207.95,1540.99 1209.45,1540.93 1210.95,1540.87 1212.45,1540.81 1213.96,1540.75 1215.46,1540.68 1216.96,1540.61 1218.46,1540.54 1219.96,1540.47 1221.46,1540.39 1222.97,1540.30 1224.47,1540.22 1225.97,1540.12 1227.47,1540.03 1228.97,1539.93 1230.47,1539.82 1231.98,1539.71 1233.48,1539.60 1234.98,1539.48 1236.48,1539.35 1237.98,1539.22 1239.48,1539.08 1240.99,1538.94 1242.49,1538.79 1243.99,1538.64 1245.49,1538.47 1246.99,1538.30 1248.49,1538.13 1250.00,1537.94 1251.50,1537.75 1253.00,1537.55 1254.50,1537.34 1256.00,1537.12 1257.50,1536.90 1259.01,1536.66 1260.51,1536.41 1262.01,1536.16 1263.51,1535.89 1265.01,1535.61 1266.51,1535.33 1268.02,1535.03 1269.52,1534.71 1271.02,1534.39 1272.52,1534.05 1274.02,1533.70 1275.52,1533.34 1277.03,1532.96 1278.53,1532.57 1280.03,1532.16 1281.53,1531.74 1283.03,1531.30 1284.53,1530.85 1286.04,1530.38 1287.54,1529.89 1289.04,1529.38 1290.54,1528.86 1292.04,1528.31 1293.54,1527.75 1295.05,1527.17 1296.55,1526.57 1298.05,1525.94 1299.55,1525.30 1301.05,1524.63 1302.55,1523.94 1304.06,1523.22 1305.56,1522.48 1307.06,1521.72 1308.56,1520.93 1310.06,1520.12 1311.56,1519.28 1313.07,1518.41 1314.57,1517.51 1316.07,1516.59 1317.57,1515.64 1319.07,1514.65 1320.57,1513.64 1322.08,1512.59 1323.58,1511.52 1325.08,1510.41 1326.58,1509.27 1328.08,1508.09 1329.58,1506.88 1331.09,1505.63 1332.59,1504.35 1334.09,1503.03 1335.59,1501.67 1337.09,1500.27 1338.59,1498.84 1340.10,1497.37 1341.60,1495.85 1343.10,1494.29 1344.60,1492.70 1346.10,1491.06 1347.60,1489.37 1349.11,1487.65 1350.61,1485.88 1352.11,1484.06 1353.61,1482.20 1355.11,1480.29 1356.61,1478.33 1358.12,1476.33 1359.62,1474.27 1361.12,1472.17 1362.62,1470.02 1364.12,1467.82 1365.62,1465.57 1367.12,1463.26 1368.63,1460.91 1370.13,1458.50 1371.63,1456.04 1373.13,1453.52 1374.63,1450.95 1376.13,1448.33 1377.64,1445.65 1379.14,1442.92 1380.64,1440.13 1382.14,1437.29 1383.64,1434.39 1385.14,1431.43 1386.65,1428.42 1388.15,1425.35 1389.65,1422.22 1391.15,1419.04 1392.65,1415.80 1394.15,1412.50 1395.66,1409.14 1397.16,1405.73 1398.66,1402.26 1400.16,1398.73 1401.66,1395.14 1403.16,1391.50 1404.67,1387.80 1406.17,1384.04 1407.67,1380.23 1409.17,1376.36 1410.67,1372.43 1412.17,1368.45 1413.68,1364.41 1415.18,1360.32 1416.68,1356.18 1418.18,1351.98 1419.68,1347.73 1421.18,1343.42 1422.69,1339.07 1424.19,1334.66 1425.69,1330.21 1427.19,1325.70 1428.69,1321.15 1430.19,1316.55 1431.70,1311.90 1433.20,1307.21 1434.70,1302.48 1436.20,1297.70 1437.70,1292.88 1439.20,1288.03 1440.71,1283.13 1442.21,1278.19 1443.71,1273.22 1445.21,1268.22 1446.71,1263.18 1448.21,1258.11 1449.72,1253.01 1451.22,1247.88 1452.72,1242.73 1454.22,1237.55 1455.72,1232.35 1457.22,1227.13 1458.73,1221.89 1460.23,1216.63 1461.73,1211.36 1463.23,1206.08 1464.73,1200.78 1466.23,1195.48 1467.74,1190.17 1469.24,1184.86 1470.74,1179.54 1472.24,1174.23 1473.74,1168.91 1475.24,1163.61 1476.75,1158.31 1478.25,1153.02 1479.75,1147.74 1481.25,1142.48 1482.75,1137.23 1484.25,1132.00 1485.76,1126.80 1487.26,1121.62 1488.76,1116.47 1490.26,1111.35 1491.76,1106.26 1493.26,1101.21 1494.77,1096.19 1496.27,1091.22 1497.77,1086.29 1499.27,1081.40 1500.77,1076.56 1502.27,1071.78 1503.78,1067.04 1505.28,1062.36 1506.78,1057.74 1508.28,1053.19 1509.78,1048.69 1511.28,1044.27 1512.79,1039.91 1514.29,1035.62 1515.79,1031.41 1517.29,1027.27 1518.79,1023.21 1520.29,1019.23 1521.80,1015.34 1523.30,1011.53 1524.80,1007.81 1526.30,1004.18 1527.80,1000.64 1529.30,997.20 1530.81,993.85 1532.31,990.61 1533.81,987.46 1535.31,984.41 1536.81,981.47 1538.31,978.64 1539.82,975.92 1541.32,973.30 1542.82,970.80 1544.32,968.40 1545.82,966.13 1547.32,963.97 1548.83,961.92 1550.33,960.00 1551.83,958.20 1553.33,956.51 1554.83,954.95 1556.33,953.51 1557.84,952.20 1559.34,951.01 1560.84,949.94 1562.34,949.01 1563.84,948.20 1565.34,947.51 1566.85,946.96 1568.35,946.53 1569.85,946.23 1571.35,946.06 1572.85,946.02 1574.35,946.11 1575.85,946.33 1577.36,946.67 1578.86,947.15 1580.36,947.75 1581.86,948.48 1583.36,949.34 1584.86,950.32 1586.37,951.43 1587.87,952.67 1589.37,954.03 1590.87,955.51 1592.37,957.12 1593.87,958.85 1595.38,960.69 1596.88,962.66 1598.38,964.75 1599.88,966.95 1601.38,969.27 1602.88,971.70 1604.39,974.25 1605.89,976.91 1607.39,979.67 1608.89,982.54 1610.39,985.52 1611.89,988.61 1613.40,991.79 1614.90,995.07 1616.40,998.46 1617.90,1001.93 1619.40,1005.51 1620.90,1009.17 1622.41,1012.92 1623.91,1016.76 1625.41,1020.69 1626.91,1024.70 1628.41,1028.78 1629.91,1032.95 1631.42,1037.19 1632.92,1041.50 1634.42,1045.89 1635.92,1050.34 1637.42,1054.86 1638.92,1059.44 1640.43,1064.08 1641.93,1068.78 1643.43,1073.53 1644.93,1078.34 1646.43,1083.19 1647.93,1088.10 1649.44,1093.04 1650.94,1098.03 1652.44,1103.06 1653.94,1108.13 1655.44,1113.23 1656.94,1118.36 1658.45,1123.53 1659.95,1128.71 1661.45,1133.93 1662.95,1139.16 1664.45,1144.41 1665.95,1149.68 1667.46,1154.96 1668.96,1160.26 1670.46,1165.56 1671.96,1170.87 1673.46,1176.18 1674.96,1181.50 1676.47,1186.81 1677.97,1192.13 1679.47,1197.43 1680.97,1202.73 1682.47,1208.03 1683.97,1213.30 1685.48,1218.57 1686.98,1223.82 1688.48,1229.05 1689.98,1234.27 1691.48,1239.46 1692.98,1244.63 1694.49,1249.77 1695.99,1254.89 1697.49,1259.98 1698.99,1265.04 1700.49,1270.06 1701.99,1275.06 1703.50,1280.01 1705.00,1284.93 1706.50,1289.82 1708.00,1294.66 1709.50,1299.47 1711.00,1304.23 1712.51,1308.95 1714.01,1313.62 1715.51,1318.25 1717.01,1322.83 1718.51,1327.37 1720.01,1331.85 1721.52,1336.29 1723.02,1340.68 1724.52,1345.01 1726.02,1349.30 1727.52,1353.53 1729.02,1357.71 1730.53,1361.83 1732.03,1365.91 1733.53,1369.92 1735.03,1373.88 1736.53,1377.79 1738.03,1381.64 1739.54,1385.43 1741.04,1389.17 1742.54,1392.85 1744.04,1396.47 1745.54,1400.03 1747.04,1403.54 1748.55,1406.99 1750.05,1410.38 1751.55,1413.72 1753.05,1417.00 1754.55,1420.22 1756.05,1423.38 1757.56,1426.49 1759.06,1429.54 1760.56,1432.53 1762.06,1435.46 1763.56,1438.34 1765.06,1441.17 1766.57,1443.93 1768.07,1446.64 1769.57,1449.30 1771.07,1451.90 1772.57,1454.45 1774.07,1456.95 1775.58,1459.39 1777.08,1461.78 1778.58,1464.12 1780.08,1466.40 1781.58,1468.63 1783.08,1470.82 1784.58,1472.95 1786.09,1475.03 1787.59,1477.07 1789.09,1479.06 1790.59,1480.99 1792.09,1482.89 1793.59,1484.73 1795.10,1486.53 1796.60,1488.29 1798.10,1490.00 1799.60,1491.67 1801.10,1493.29 1802.60,1494.87 1804.11,1496.41 1805.61,1497.91 1807.11,1499.37 1808.61,1500.79 1810.11,1502.17 1811.61,1503.52 1813.12,1504.82 1814.62,1506.09 1816.12,1507.33 1817.62,1508.53 1819.12,1509.69 1820.62,1510.82 1822.13,1511.92 1823.63,1512.98 1825.13,1514.02 1826.63,1515.02 1828.13,1515.99 1829.63,1516.93 1831.14,1517.85 1832.64,1518.73 1834.14,1519.59 1835.64,1520.42 1837.14,1521.23 1838.64,1522.00 1840.15,1522.76 1841.65,1523.49 1843.15,1524.19 1844.65,1524.88 1846.15,1525.54 1847.65,1526.17 1849.16,1526.79 1850.66,1527.39 1852.16,1527.96 1853.66,1528.52 1855.16,1529.05 1856.66,1529.57 1858.17,1530.07 1859.67,1530.55 1861.17,1531.02 1862.67,1531.46 1864.17,1531.90 1865.67,1532.31 1867.18,1532.71 1868.68,1533.10 1870.18,1533.47 1871.68,1533.83 1873.18,1534.18 1874.68,1534.51 1876.19,1534.83 1877.69,1535.14 1879.19,1535.43 1880.69,1535.72 1882.19,1535.99 1883.69,1536.25 1885.20,1536.51 1886.70,1536.75 1888.20,1536.98 1889.70,1537.20 1891.20,1537.42 1892.70,1537.62 1894.21,1537.82 1895.71,1538.01 1897.21,1538.19 1898.71,1538.37 1900.21,1538.54 1901.71,1538.70 1903.22,1538.85 1904.72,1539.00 1906.22,1539.14 1907.72,1539.27 1909.22,1539.40 1910.72,1539.52 1912.23,1539.64 1913.73,1539.75 1915.23,1539.86 1916.73,1539.96 1918.23,1540.06 1919.73,1540.16 1921.24,1540.25 1922.74,1540.33 1924.24,1540.42 1925.74,1540.49 1927.24,1540.57 1928.74,1540.64 1930.25,1540.71 1931.75,1540.77 1933.25,1540.84 1934.75,1540.89 1936.25,1540.95 1937.75,1541.00 1939.26,1541.06 1940.76,1541.10 1942.26,1541.15 1943.76,1541.19 1945.26,1541.24 1946.76,1541.28 1948.27,1541.31 1949.77,1541.35 1951.27,1541.39 1952.77,1541.42 1954.27,1541.45 1955.77,1541.48 1957.28,1541.51 1958.78,1541.53 1960.28,1541.56 1961.78,1541.58 1963.28,1541.61 1964.78,1541.63 1966.29,1541.65 1967.79,1541.67 1969.29,1541.69 1970.79,1541.70 1972.29,1541.72 1973.79,1541.74 1975.30,1541.75 1976.80,1541.76 1978.30,1541.78 1979.80,1541.79"/>
<g stroke="#000" fill="none" stroke-linecap="butt">
<line x1="1162.90" y1="883.40" x2="1162.90" y2="1561.40" stroke-width="1.6"/>
<path stroke-linejoin="miter" d="M1153.20 883.40H1979.80V1561.40" stroke-width="1.6"/>
<line x1="1143.60" y1="1542.00" x2="1979.80" y2="1542.00" stroke-width="1.6"/>
<line x1="1153.20" y1="1503.30" x2="1162.90" y2="1503.30" stroke-width="1.6"/>
<line x1="1153.20" y1="1464.60" x2="1162.90" y2="1464.60" stroke-width="1.6"/>
<line x1="1153.20" y1="1425.90" x2="1162.90" y2="1425.90" stroke-width="1.6"/>
<line x1="1153.20" y1="1387.20" x2="1162.90" y2="1387.20" stroke-width="1.6"/>
<line x1="1143.60" y1="1348.50" x2="1162.90" y2="1348.50" stroke-width="1.6"/>
<line x1="1153.20" y1="1309.80" x2="1162.90" y2="1309.80" stroke-width="1.6"/>
<line x1="1153.20" y1="1271.10" x2="1162.90" y2="1271.10" stroke-width="1.6"/>
<line x1="1153.20" y1="1232.40" x2="1162.90" y2="1232.40" stroke-width="1.6"/>
<line x1="1153.20" y1="1193.70" x2="1162.90" y2="1193.70" stroke-width="1.6"/>
<line x1="1143.60" y1="1155.00" x2="1162.90" y2="1155.00" stroke-width="1.6"/>
<line x1="1153.20" y1="1116.30" x2="1162.90" y2="1116.30" stroke-width="1.6"/>
<line x1="1153.20" y1="1077.60" x2="1162.90" y2="1077.60" stroke-width="1.6"/>
<line x1="1153.20" y1="1038.90" x2="1162.90" y2="1038.90" stroke-width="1.6"/>
<line x1="1153.20" y1="1000.20" x2="1162.90" y2="1000.20" stroke-width="1.6"/>
<line x1="1143.60" y1="961.50" x2="1162.90" y2="961.50" stroke-width="1.6"/>
<line x1="1153.20" y1="922.80" x2="1162.90" y2="922.80" stroke-width="1.6"/>
<line x1="1153.20" y1="884.10" x2="1162.90" y2="884.10" stroke-width="1.6"/>
<line x1="1213.96" y1="1542.00" x2="1213.96" y2="1551.70" stroke-width="1.6"/>
<line x1="1265.01" y1="1542.00" x2="1265.01" y2="1561.40" stroke-width="1.6"/>
<line x1="1316.07" y1="1542.00" x2="1316.07" y2="1551.70" stroke-width="1.6"/>
<line x1="1367.12" y1="1542.00" x2="1367.12" y2="1561.40" stroke-width="1.6"/>
<line x1="1418.18" y1="1542.00" x2="1418.18" y2="1551.70" stroke-width="1.6"/>
<line x1="1469.24" y1="1542.00" x2="1469.24" y2="1561.40" stroke-width="1.6"/>
<line x1="1520.29" y1="1542.00" x2="1520.29" y2="1551.70" stroke-width="1.6"/>
<line x1="1571.35" y1="1542.00" x2="1571.35" y2="1561.40" stroke-width="1.6"/>
<line x1="1622.41" y1="1542.00" x2="1622.41" y2="1551.70" stroke-width="1.6"/>
<line x1="1673.46" y1="1542.00" x2="1673.46" y2="1561.40" stroke-width="1.6"/>
<line x1="1724.52" y1="1542.00" x2="1724.52" y2="1551.70" stroke-width="1.6"/>
<line x1="1775.58" y1="1542.00" x2="1775.58" y2="1561.40" stroke-width="1.6"/>
<line x1="1826.63" y1="1542.00" x2="1826.63" y2="1551.70" stroke-width="1.6"/>
<line x1="1877.69" y1="1542.00" x2="1877.69" y2="1561.40" stroke-width="1.6"/>
<line x1="1928.74" y1="1542.00" x2="1928.74" y2="1551.70" stroke-width="1.6"/>
</g>
<g fill="#000" font-family="'Liberation Sans', Arial, Helvetica, sans-serif" font-weight="bold">
<text x="1089.88" y="977.30" font-size="30.5">150</text>
<text x="1089.88" y="1170.80" font-size="30.5">100</text>
<text x="1108.05" y="1364.30" font-size="30.5">50</text>
<text x="1125.55" y="1557.80" font-size="30.5">0</text>
<text x="1145.59" y="1591.80" font-size="30.5">10</text>
<text x="1248.14" y="1591.80" font-size="30.5">20</text>
<text x="1350.38" y="1591.80" font-size="30.5">30</text>
<text x="1452.61" y="1591.80" font-size="30.5">40</text>
<text x="1554.47" y="1591.80" font-size="30.5">50</text>
<text x="1656.53" y="1591.80" font-size="30.5">60</text>
<text x="1758.58" y="1591.80" font-size="30.5">70</text>
<text x="1860.81" y="1591.80" font-size="30.5">80</text>
<text x="1962.92" y="1591.80" font-size="30.5">90</text>
<text x="1240.70" y="1640.60" font-size="30.1">reaction speed, intra-individual normalization</text>
<text transform="translate(1068.83,1265.60) rotate(-90)" font-size="38">count</text>
<text x="1042.53" y="880.00" font-size="35.5">D</text>
</g>
</svg>
</body></html>
